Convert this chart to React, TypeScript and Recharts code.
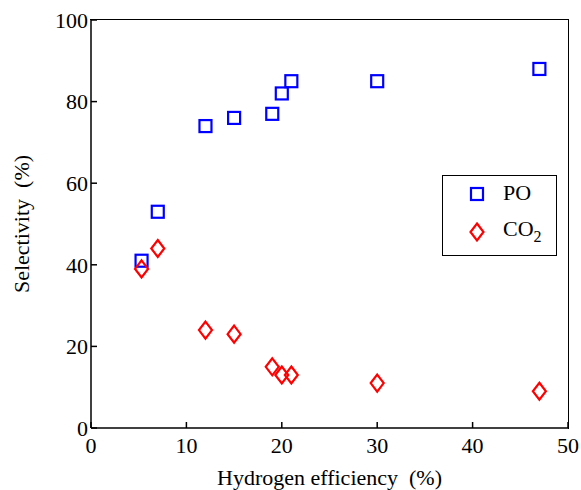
import React from 'react';
import { ScatterChart, Scatter, XAxis, YAxis, Legend } from 'recharts';

// hydrogen efficiency (%) for each run
const efficiency = [5.3, 7, 12, 15, 19, 20, 21, 30, 47];
const poSelectivity = [41, 53, 74, 76, 77, 82, 85, 85, 88];
const co2Selectivity = [39, 44, 24, 23, 15, 13, 13, 11, 9];

const xTicks = [0, 10, 20, 30, 40, 50];
const yTicks = [0, 20, 40, 60, 80, 100];

const poData = efficiency.map((x, i) => ({ x, y: poSelectivity[i] }));
const co2Data = efficiency.map((x, i) => ({ x, y: co2Selectivity[i] }));

const FONT = '"Liberation Serif", "Times New Roman", serif';
const BLUE = '#0000ff';
const RED = '#ff0000';

const W = 581;
const H = 490;
const MARGIN = { top: 20, right: 13, bottom: 0, left: 0 };
const Y_AXIS_W = 91;
const X_AXIS_H = 62;

const SquareMark = ({ cx, cy }: any) => (
  <rect x={cx - 6} y={cy - 6} width={12} height={12} fill="none" stroke={BLUE} strokeWidth={2.2} />
);

const DiamondMark = ({ cx, cy }: any) => (
  <polygon
    points={`${cx},${cy - 8.5} ${cx + 6.5},${cy} ${cx},${cy + 8.5} ${cx - 6.5},${cy}`}
    fill="none"
    stroke={RED}
    strokeWidth={2.2}
  />
);

const LegendBox = () => (
  <div
    style={{
      width: 113,
      height: 79,
      border: '1.5px solid #000',
      background: '#fff',
      fontFamily: FONT,
      fontSize: 22,
      color: '#000',
      position: 'relative',
    }}
  >
    <svg width={113} height={79} style={{ position: 'absolute', left: 0, top: 0 }}>
      <rect x={28} y={12} width={12} height={12} fill="none" stroke={BLUE} strokeWidth={2.2} />
      <polygon points="34,47.5 40.5,56 34,64.5 27.5,56" fill="none" stroke={RED} strokeWidth={2.2} />
    </svg>
    <div style={{ position: 'absolute', left: 60, top: 5, lineHeight: '24px' }}>PO</div>
    <div style={{ position: 'absolute', left: 60, top: 41, lineHeight: '24px' }}>
      CO<sub style={{ fontSize: 16, verticalAlign: -6 }}>2</sub>
    </div>
  </div>
);

const axisLine = { stroke: '#000', strokeWidth: 1.5 };
const tickStyle = { fontSize: 22, fill: '#000', fontFamily: FONT };

export default function App() {
  const plotW = W - MARGIN.left - MARGIN.right - Y_AXIS_W;
  const plotH = H - MARGIN.top - MARGIN.bottom - X_AXIS_H;
  return (
    <div style={{ position: 'absolute', left: 0, top: 0, width: W, height: H, background: '#fff' }}>
      <ScatterChart width={W} height={H} margin={MARGIN}>
        {/* negative tickSize = ticks point into the plot, like matlab */}
        <XAxis
          dataKey="x"
          type="number"
          domain={[0, 50]}
          ticks={xTicks}
          tickLine={axisLine}
          tickSize={-6}
          tickMargin={15}
          axisLine={axisLine}
          tick={tickStyle}
          height={X_AXIS_H}
          label={{ value: 'Hydrogen efficiency \u00a0(%)', position: 'insideBottom', offset: 5, style: tickStyle }}
        />
        <YAxis
          dataKey="y"
          type="number"
          domain={[0, 100]}
          ticks={yTicks}
          tickLine={axisLine}
          tickSize={-6}
          tickMargin={9}
          axisLine={axisLine}
          tick={tickStyle}
          width={Y_AXIS_W}
          label={{ value: 'Selectivity \u00a0(%)', angle: -90, position: 'insideLeft', offset: 21, style: { ...tickStyle, textAnchor: 'middle' } }}
        />
        <Legend
          layout="vertical"
          align="center"
          verticalAlign="middle"
          content={<LegendBox />}
          wrapperStyle={{ left: 442, top: 175, width: 'auto' }}
        />
        <Scatter name="PO" data={poData} shape={<SquareMark />} isAnimationActive={false} />
        <Scatter name="CO2" data={co2Data} shape={<DiamondMark />} isAnimationActive={false} />
      </ScatterChart>
      {/* top and right edges of the box */}
      <div
        style={{
          position: 'absolute',
          left: MARGIN.left + Y_AXIS_W - 0.75,
          top: MARGIN.top - 0.75,
          width: plotW + 1.5,
          height: plotH + 1.5,
          boxSizing: 'border-box',
          borderTop: '1.5px solid #000',
          borderRight: '1.5px solid #000',
          pointerEvents: 'none',
        }}
      />
    </div>
  );
}
